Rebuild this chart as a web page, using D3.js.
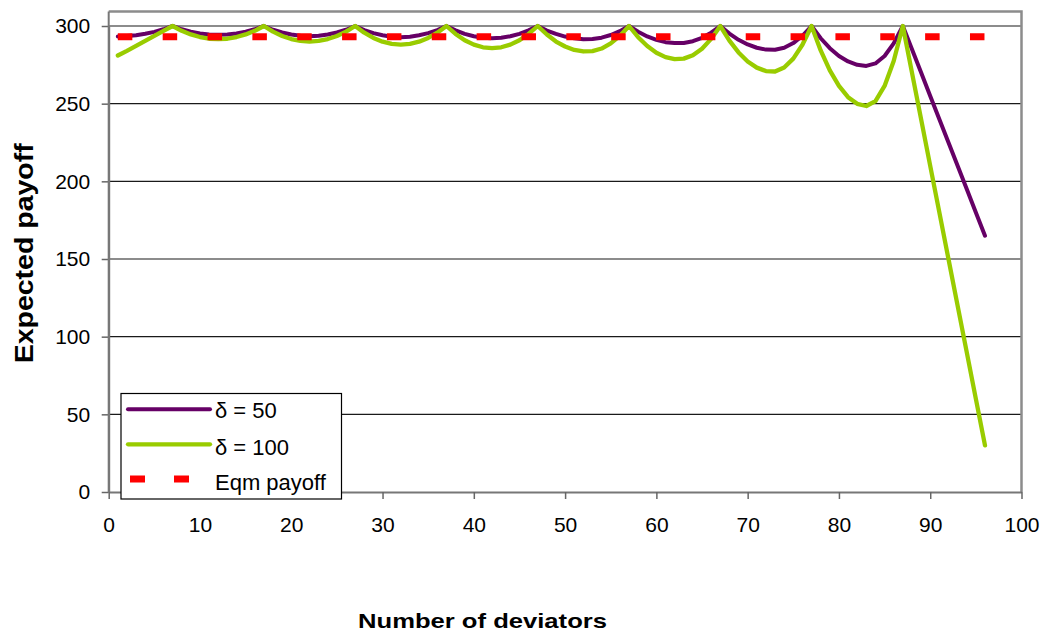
<!DOCTYPE html>
<html>
<head>
<meta charset="utf-8">
<script src="https://cdn.jsdelivr.net/npm/d3@7"></script>
<style>
  html, body { margin: 0; padding: 0; background: #fff; }
  svg { display: block; font-family: "Liberation Sans", Arial, sans-serif; }
</style>
</head>
<body>
<svg id="chart" width="1045" height="633"></svg>
<script>
// ---- data ----
const deviators = d3.range(1, 97); // 1..96
const delta50 = [
  293.3, 293.5, 294.1, 295.0, 296.2, 297.9, 300.0,
  297.9, 296.4, 295.2, 294.5, 294.3, 294.5, 295.2, 296.4, 297.9, 300.0,
  297.6, 295.8, 294.5, 293.7, 293.4, 293.7, 294.5, 295.8, 297.6, 300.0,
  297.4, 295.4, 294.0, 293.1, 292.8, 293.1, 294.0, 295.4, 297.4, 300.0,
  297.2, 294.9, 293.4, 292.4, 292.1, 292.4, 293.4, 294.9, 297.2, 300.0,
  297.1, 294.9, 293.2, 292.1, 291.5, 291.6, 292.5, 294.2, 296.7, 300.0,
  296.3, 293.3, 291.1, 289.6, 289.0, 289.1, 290.2, 292.4, 295.7, 300.0,
  295.1, 291.1, 288.1, 286.0, 284.8, 284.7, 286.0, 289.0, 293.7, 300.0,
  292.1, 285.7, 280.7, 277.2, 275.0, 274.3, 275.9, 280.7, 288.8, 300.0,
  285.0, 270.0, 255.0, 240.0, 225.0, 210.0, 195.0, 180.0, 165.0
];
const delta100 = [
  281.0, 284.0, 287.2, 290.4, 293.6, 296.8, 300.0,
  296.9, 294.6, 292.9, 291.8, 291.5, 291.8, 292.9, 294.6, 296.9, 300.0,
  296.4, 293.6, 291.6, 290.4, 290.0, 290.4, 291.6, 293.6, 296.4, 300.0,
  295.7, 292.3, 289.9, 288.5, 288.0, 288.5, 289.9, 292.3, 295.7, 300.0,
  294.9, 290.8, 288.0, 286.3, 285.7, 286.3, 288.0, 290.8, 294.9, 300.0,
  294.5, 290.0, 286.8, 284.6, 283.6, 283.8, 285.5, 288.8, 293.6, 300.0,
  292.8, 287.1, 282.8, 280.0, 278.7, 279.0, 281.2, 285.4, 291.7, 300.0,
  290.6, 283.0, 277.2, 273.2, 271.0, 270.7, 273.3, 279.0, 287.9, 300.0,
  284.3, 271.4, 261.4, 254.2, 249.9, 248.5, 251.7, 261.4, 277.5, 300.0,
  270.0, 240.0, 210.0, 180.0, 150.0, 120.0, 90.0, 60.0, 30.0
];
const eqmDeviators = [1, 96];
const eqmPayoff = [293, 293];
const xTicks = [0, 10, 20, 30, 40, 50, 60, 70, 80, 90, 100];
const yTicks = [0, 50, 100, 150, 200, 250, 300];
const seriesNames = ["δ = 50", "δ = 100", "Eqm payoff"];
const xTitle = "Number of deviators";
const yTitle = "Expected payoff";

// ---- layout ----
const svg = d3.select("#chart");
const left = 108.7, right = 1021.5, bottom = 492, y300 = 26, frameTop = 11.5;
const x = d3.scaleLinear().domain([0, 100]).range([left, right]);
const y = d3.scaleLinear().domain([0, 300]).range([bottom, y300]);

const colors = ["#660066", "#99CC00", "#FF0000"];
const dash = "14.5,30.35";

// gridlines
svg.append("g").selectAll("line")
  .data(yTicks.filter(d => d > 0))
  .join("line")
  .attr("x1", x(0)).attr("x2", x(100))
  .attr("y1", d => y(d)).attr("y2", d => y(d))
  .attr("stroke", "#1a1a1a").attr("stroke-width", 1.1);

// frame (top + right)
svg.append("path")
  .attr("d", `M${x(0)},${frameTop} H${x(100)} V${bottom}`)
  .attr("fill", "none").attr("stroke", "#8c8c8c").attr("stroke-width", 2.5);

// axes
const yAxis = svg.append("g")
  .attr("transform", `translate(${x(0)},0)`)
  .call(d3.axisLeft(y).tickValues(yTicks).tickSize(7).tickPadding(11.5).tickSizeOuter(0));
const xAxis = svg.append("g")
  .attr("transform", `translate(0,${bottom})`)
  .call(d3.axisBottom(x).tickValues(xTicks).tickSize(7).tickPadding(18.5).tickSizeOuter(0));
[yAxis, xAxis].forEach(a => {
  a.select(".domain").attr("stroke", "#777").attr("stroke-width", 2);
  a.selectAll(".tick line").attr("stroke", "#666").attr("stroke-width", 1.5);
  a.selectAll("text").attr("font-size", 21).attr("fill", "#000")
    .attr("font-family", '"Liberation Sans", Arial, sans-serif');
});
// extend left axis line to frame top
svg.append("line")
  .attr("x1", x(0)).attr("x2", x(0)).attr("y1", frameTop).attr("y2", bottom)
  .attr("stroke", "#777").attr("stroke-width", 2);

// lines
const line = d3.line().x(d => x(d[0])).y(d => y(d[1]));
const s50 = deviators.map((d, i) => [d, delta50[i]]);
const s100 = deviators.map((d, i) => [d, delta100[i]]);
const sEqm = eqmDeviators.map((d, i) => [d, eqmPayoff[i]]);

svg.append("path").datum(s50).attr("d", line)
  .attr("fill", "none").attr("stroke", colors[0]).attr("stroke-width", 4)
  .attr("stroke-linejoin", "round").attr("stroke-linecap", "round");
svg.append("path").datum(s100).attr("d", line)
  .attr("fill", "none").attr("stroke", colors[1]).attr("stroke-width", 4.3)
  .attr("stroke-linejoin", "round").attr("stroke-linecap", "round");
svg.append("path").datum(sEqm).attr("d", line)
  .attr("fill", "none").attr("stroke", colors[2]).attr("stroke-width", 7)
  .attr("stroke-dasharray", dash).attr("stroke-linecap", "butt");

// legend
const lg = svg.append("g");
lg.append("rect").attr("x", 121).attr("y", 393.5).attr("width", 220.5).attr("height", 105.5)
  .attr("fill", "#fff").attr("stroke", "#000").attr("stroke-width", 1.2);
const rowsY = [409.3, 444.3, 479];
const baseY = [418.3, 455, 490];
seriesNames.forEach((name, i) => {
  const l = lg.append("line")
    .attr("x1", i === 2 ? 130 : 128).attr("x2", i === 2 ? 190 : 210)
    .attr("y1", rowsY[i]).attr("y2", rowsY[i])
    .attr("stroke", colors[i]);
  if (i === 2) {
    l.attr("stroke-width", 7).attr("stroke-dasharray", "15,29").attr("stroke-linecap", "butt");
  } else {
    l.attr("stroke-width", i === 0 ? 4 : 4.3).attr("stroke-linecap", "round");
  }
  lg.append("text").attr("x", 215).attr("y", baseY[i])
    .attr("font-size", 22).attr("fill", "#000").text(name);
});

// axis titles
svg.append("text")
  .attr("x", 482.5).attr("y", 628).attr("text-anchor", "middle")
  .attr("font-size", 21).attr("font-weight", "bold")
  .attr("textLength", 249).attr("lengthAdjust", "spacingAndGlyphs")
  .text(xTitle);
svg.append("text")
  .attr("transform", "translate(32.5,253.3) rotate(-90)")
  .attr("text-anchor", "middle")
  .attr("font-size", 26).attr("font-weight", "bold")
  .attr("textLength", 220).attr("lengthAdjust", "spacingAndGlyphs")
  .text(yTitle);
</script>
</body>
</html>
